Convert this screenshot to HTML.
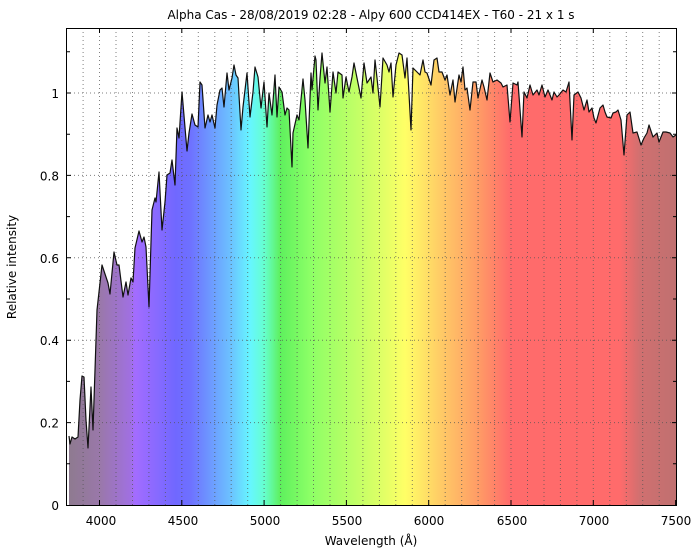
<!DOCTYPE html>
<html><head><meta charset="utf-8"><style>
body{margin:0;background:#fff;}
svg{display:block;font-family:"DejaVu Sans","Liberation Sans",sans-serif;}
</style></head><body>
<svg width="700" height="550" viewBox="0 0 700 550" xmlns="http://www.w3.org/2000/svg">
<defs>
<linearGradient id="g" gradientUnits="userSpaceOnUse" x1="66" y1="0" x2="676" y2="0">
<stop offset="0" stop-color="#8d7a8d"/>
<stop offset="0.056" stop-color="#9a78aa"/>
<stop offset="0.105" stop-color="#a070e0"/>
<stop offset="0.113" stop-color="#a36cff"/>
<stop offset="0.18" stop-color="#7068ff"/>
<stop offset="0.203" stop-color="#6e70ff"/>
<stop offset="0.269" stop-color="#6cc0ff"/>
<stop offset="0.302" stop-color="#66f6ff"/>
<stop offset="0.326" stop-color="#66ffcc"/>
<stop offset="0.351" stop-color="#5ef05e"/>
<stop offset="0.400" stop-color="#8cff66"/>
<stop offset="0.515" stop-color="#ddff66"/>
<stop offset="0.556" stop-color="#ffff66"/>
<stop offset="0.613" stop-color="#ffcc66"/>
<stop offset="0.679" stop-color="#ff9966"/>
<stop offset="0.728" stop-color="#ff6b6b"/>
<stop offset="0.908" stop-color="#ff6b6b"/>
<stop offset="0.941" stop-color="#d07070"/>
<stop offset="1" stop-color="#c07070"/>
</linearGradient>
</defs>
<g id="spec">
<polygon fill="url(#g)" points="69,505 69,436 70,444 72,437 75,439 78,437 80,400 82,376 84,377 86,420 88,448 91,387 93,430 95,370 97,310 102,265 108,283 110,294 114,252 117,265 119,265 123,297 126,282 128,295 131,278 133,282 135,248 139,231 142,242 144,237 146,247 149,307 152,210 155,198 156,202 159,172 162,230 165,202 167,175 170,173 172,160 175,185 177,128 179,138 182,92 187,151 189,133 192,114 195,125 198,127 200,82 202,85 205,128 208,115 210,122 212,115 215,128 217,105 220,90 222,88 224,107 227,73 229,90 232,78 234,65 236,75 238,78 241,130 243,107 247,73 250,117 253,92 255,67 258,77 261,108 264,82 267,127 269,93 272,115 275,75 277,117 279,87 282,92 285,115 287,108 289,110 292,167 293,133 297,115 299,120 303,79 305,100 308,148 311,73 312,90 315,56 316,60 318,110 320,78 322,53 325,83 327,67 330,112 333,72 336,93 338,72 342,75 343,98 346,77 349,92 352,77 354,63 357,78 361,98 364,63 367,83 371,77 373,93 375,60 377,78 380,107 383,58 387,65 389,72 391,63 393,97 396,65 399,53 402,55 405,78 407,58 411,130 413,68 417,72 420,75 423,60 425,72 427,73 431,85 434,60 437,58 439,72 442,72 445,80 447,75 450,95 453,80 455,102 459,75 461,82 463,67 465,90 467,88 470,110 473,82 476,82 478,98 482,80 484,87 487,100 490,73 493,82 497,80 501,83 503,87 507,85 510,122 513,83 517,85 518,82 522,137 524,92 527,98 530,85 533,95 537,90 539,95 542,85 545,97 548,90 552,100 554,92 557,97 559,95 563,90 566,92 569,82 572,140 574,95 578,92 581,98 584,110 587,100 589,112 592,108 594,118 596,123 600,108 603,105 605,112 607,117 611,118 613,113 616,112 618,110 621,120 624,155 627,115 630,112 633,133 637,132 641,145 644,138 647,133 649,125 653,137 657,133 659,142 663,132 666,132 670,133 673,137 676,135 676,505"/>
</g>
<g stroke="#555" stroke-width="1" stroke-dasharray="1,3" fill="none" opacity="0.75">
<path d="M83.1,28V505M99.5,28V505M116,28V505M132.5,28V505M148.9,28V505M165.4,28V505M181.8,28V505M198.3,28V505M214.8,28V505M231.2,28V505M247.7,28V505M264.1,28V505M280.6,28V505M297.1,28V505M313.5,28V505M330,28V505M346.4,28V505M362.9,28V505M379.4,28V505M395.8,28V505M412.3,28V505M428.7,28V505M445.2,28V505M461.7,28V505M478.1,28V505M494.6,28V505M511,28V505M527.5,28V505M544,28V505M560.4,28V505M576.9,28V505M593.3,28V505M609.8,28V505M626.3,28V505M642.7,28V505M659.2,28V505"/>
<path d="M66,422.6H676M66,340.2H676M66,257.8H676M66,175.4H676M66,93H676"/>
</g>
<polyline fill="none" stroke="#111" stroke-width="1.2" stroke-linejoin="round" points="69,436 70,444 72,437 75,439 78,437 80,400 82,376 84,377 86,420 88,448 91,387 93,430 95,370 97,310 102,265 108,283 110,294 114,252 117,265 119,265 123,297 126,282 128,295 131,278 133,282 135,248 139,231 142,242 144,237 146,247 149,307 152,210 155,198 156,202 159,172 162,230 165,202 167,175 170,173 172,160 175,185 177,128 179,138 182,92 187,151 189,133 192,114 195,125 198,127 200,82 202,85 205,128 208,115 210,122 212,115 215,128 217,105 220,90 222,88 224,107 227,73 229,90 232,78 234,65 236,75 238,78 241,130 243,107 247,73 250,117 253,92 255,67 258,77 261,108 264,82 267,127 269,93 272,115 275,75 277,117 279,87 282,92 285,115 287,108 289,110 292,167 293,133 297,115 299,120 303,79 305,100 308,148 311,73 312,90 315,56 316,60 318,110 320,78 322,53 325,83 327,67 330,112 333,72 336,93 338,72 342,75 343,98 346,77 349,92 352,77 354,63 357,78 361,98 364,63 367,83 371,77 373,93 375,60 377,78 380,107 383,58 387,65 389,72 391,63 393,97 396,65 399,53 402,55 405,78 407,58 411,130 413,68 417,72 420,75 423,60 425,72 427,73 431,85 434,60 437,58 439,72 442,72 445,80 447,75 450,95 453,80 455,102 459,75 461,82 463,67 465,90 467,88 470,110 473,82 476,82 478,98 482,80 484,87 487,100 490,73 493,82 497,80 501,83 503,87 507,85 510,122 513,83 517,85 518,82 522,137 524,92 527,98 530,85 533,95 537,90 539,95 542,85 545,97 548,90 552,100 554,92 557,97 559,95 563,90 566,92 569,82 572,140 574,95 578,92 581,98 584,110 587,100 589,112 592,108 594,118 596,123 600,108 603,105 605,112 607,117 611,118 613,113 616,112 618,110 621,120 624,155 627,115 630,112 633,133 637,132 641,145 644,138 647,133 649,125 653,137 657,133 659,142 663,132 666,132 670,133 673,137 676,135"/>
<rect x="66.5" y="28.5" width="610" height="477" fill="none" stroke="#000" stroke-width="1"/>
<g stroke="#000" stroke-width="1">
<path d="M99.5,505v-5M181.8,505v-5M264.1,505v-5M346.4,505v-5M428.7,505v-5M511,505v-5M593.3,505v-5M675.6,505v-5"/>
<path d="M99.5,28v5M181.8,28v5M264.1,28v5M346.4,28v5M428.7,28v5M511,28v5M593.3,28v5"/>
<path d="M66,463.8h4M66,422.6h5M66,381.4h4M66,340.2h5M66,299h4M66,257.8h5M66,216.6h4M66,175.4h5M66,134.2h4M66,93h5M66,51.8h4"/>
<path d="M677,463.8h-4M677,422.6h-5M677,381.4h-4M677,340.2h-5M677,299h-4M677,257.8h-5M677,216.6h-4M677,175.4h-5M677,134.2h-4M677,93h-5M677,51.8h-4"/>
</g>
<g font-size="12" fill="#000">
<g text-anchor="end">
<text x="59" y="510">0</text>
<text x="59" y="427.6">0.2</text>
<text x="59" y="345.2">0.4</text>
<text x="59" y="262.8">0.6</text>
<text x="59" y="180.4">0.8</text>
<text x="59" y="98">1</text>
</g>
<g text-anchor="middle">
<text x="101" y="525">4000</text>
<text x="183" y="525">4500</text>
<text x="265" y="525">5000</text>
<text x="347" y="525">5500</text>
<text x="429" y="525">6000</text>
<text x="512" y="525">6500</text>
<text x="594" y="525">7000</text>
<text x="676" y="525">7500</text>
<text x="371" y="545">Wavelength (Å)</text>
<text x="371" y="19">Alpha Cas - 28/08/2019 02:28 - Alpy 600 CCD414EX - T60 - 21 x 1 s</text>
<text transform="translate(16,267) rotate(-90)">Relative intensity</text>
</g>
</g>
</svg>
</body></html>
